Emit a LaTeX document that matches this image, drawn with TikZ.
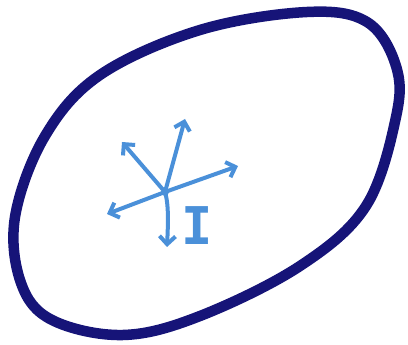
\documentclass[tikz,border=0pt]{standalone}
\usepackage{fontspec}
\newfontfamily\monofont{DejaVu Sans Mono}
\usetikzlibrary{arrows.meta}
\definecolor{navy}{RGB}{22,20,120}
\definecolor{lblue}{RGB}{74,144,217}
\tikzset{
  outline/.style={draw=navy, line width=10.5pt, line join=round},
  ray/.style={draw=lblue, line width=4pt, line cap=round, -{Straight Barb[length=8pt,width=16pt,line width=4pt]}},
}
\begin{document}
\begin{tikzpicture}[x=1pt,y=-1pt]
\useasboundingbox (0,0) rectangle (408,345);
\draw[outline] plot[smooth cycle, tension=0.6] coordinates {
 (307,12) (200,30) (100,75) (45,136) (15,217) (21,283) (52,320) (123,335)
 (200,316) (300,266) (366,206) (396,117) (396,66) (367,22)};
\coordinate (c) at (165,192);
\coordinate (up) at (185,119);
\coordinate (ul) at (122,142);
\coordinate (rt) at (238,166);
\coordinate (lt) at (107,214);
\coordinate (dn) at (167,247);
\draw[ray] (c) -- (up);
\draw[ray] (c) -- (ul);
\draw[ray] (c) -- (rt);
\draw[ray] (c) -- (lt);
\draw[ray] (c) .. controls (169,205) and (168,225) .. (dn);
\fill[lblue] (c) circle (4pt);
\node[text=lblue, font=\fontsize{52}{52}\selectfont\monofont\bfseries, inner sep=0pt, anchor=base] (I) at (197,244) {I};
\end{tikzpicture}
\end{document}
